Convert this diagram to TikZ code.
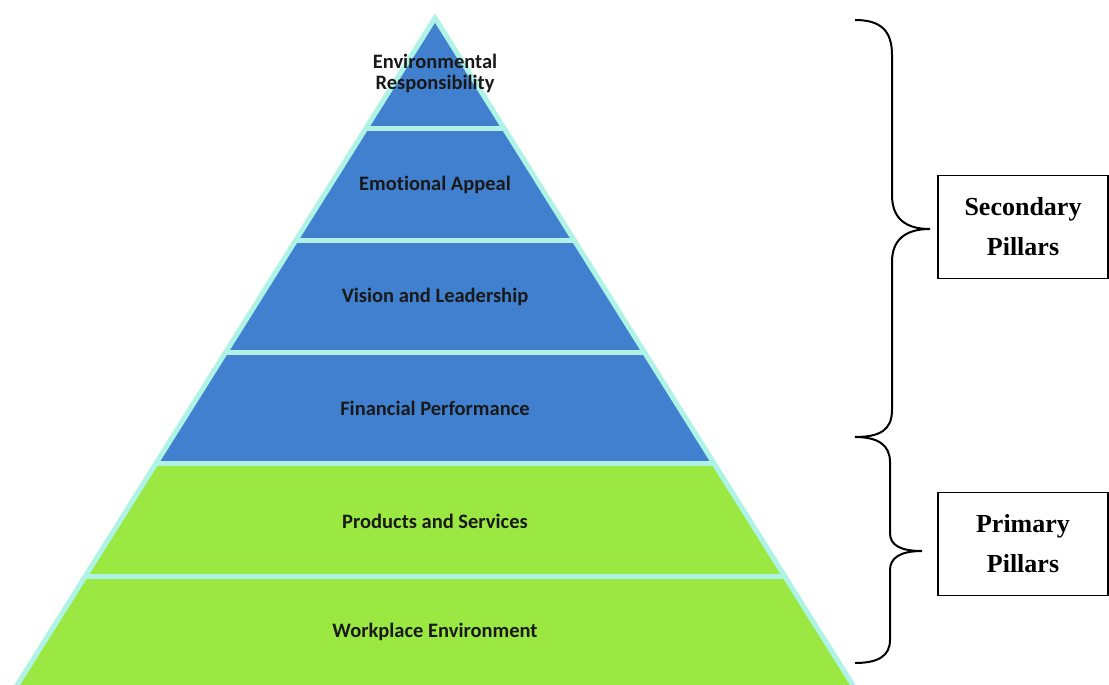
\documentclass[tikz,border=0pt]{standalone}
\usepackage{fontspec}
\setmainfont{Liberation Serif}
\newfontfamily\pyrfont[Ligatures=NoCommon]{Carlito}
\definecolor{pyrblue}{RGB}{64,128,206}
\definecolor{pyrgreen}{RGB}{155,232,67}
\definecolor{pyrcyan}{RGB}{174,243,230}
\begin{document}
\begin{tikzpicture}[x=1pt,y=-1pt,
  layertext/.style={font=\pyrfont\bfseries\fontsize{20.5}{22}\selectfont, text=black!90, align=center, inner sep=0pt},
  pillarbox/.style={draw=black, line width=1.5pt, fill=white, minimum width=170pt, minimum height=103pt, align=center, font=\bfseries\fontsize{26}{40}\selectfont, inner sep=0pt},
  bracestyle/.style={draw=black, line width=2pt}]
\useasboundingbox (0,0) rectangle (1109,685);
\begin{scope}
\clip (0,0) rectangle (1109,685);
\coordinate (apex) at (435,18);
\coordinate (bl) at (14,690);
\coordinate (br) at (856,690);
\fill[pyrblue] (apex) -- (bl) -- (br) -- cycle;
\begin{scope}
\clip (apex) -- (bl) -- (br) -- cycle;
\fill[pyrgreen] (0,463) rectangle (1109,700);
\foreach \yy in {128,240,352,463,576}
  \draw[pyrcyan, line width=5pt] (0,\yy) -- (1109,\yy);
\end{scope}
\draw[pyrcyan, line width=5pt, line join=miter] (bl) -- (apex) -- (br);
\end{scope}
\node[layertext] (t1) at (435,73) {Environmental\\[-1pt]Responsibility};
\node[layertext] (t2) at (435,185) {Emotional Appeal};
\node[layertext] (t3) at (435,297) {Vision and Leadership};
\node[layertext] (t4) at (435,408) {Financial Performance};
\node[layertext] (t5) at (435,521) {Products and Services};
\node[layertext] (t6) at (435,632) {Workplace Environment};
\draw[bracestyle] (855,20) .. controls (880,20) and (892,30) .. (892,55) -- (892,195)
  .. controls (892,218) and (905,229) .. (930,229)
  .. controls (905,229) and (892,240) .. (892,262) -- (892,410)
  .. controls (892,430) and (880,437) .. (855,437);
\draw[bracestyle] (855,437) .. controls (878,437) and (890,445) .. (890,462) -- (890,533)
  .. controls (890,545) and (900,551) .. (922,551)
  .. controls (900,551) and (890,558) .. (890,570) -- (890,640)
  .. controls (890,656) and (878,663) .. (855,663);
\node[pillarbox] (sec) at (1023,227) {\raisebox{-3pt}{Secondary}\\\raisebox{-3pt}{Pillars}};
\node[pillarbox] (pri) at (1023,544) {\raisebox{-3pt}{Primary}\\\raisebox{-3pt}{Pillars}};
\end{tikzpicture}
\end{document}
